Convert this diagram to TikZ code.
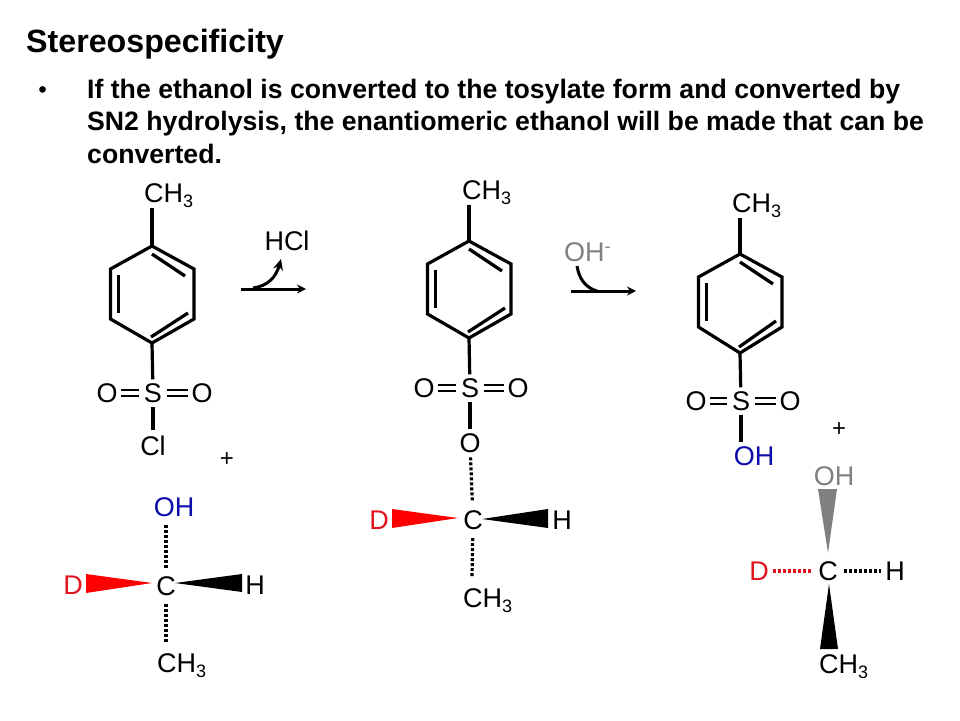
\documentclass[tikz,border=0pt]{standalone}
\usepackage{fontspec}
\setmainfont{Liberation Sans}
\usetikzlibrary{arrows.meta}
\definecolor{oblue}{RGB}{12,12,170}
\definecolor{dred}{RGB}{225,20,30}
\definecolor{wred}{RGB}{255,0,0}
\definecolor{ogray}{RGB}{128,128,128}
\newcommand{\lab}{\fontsize{27}{27}\selectfont}
\newcommand{\methyl}{CH\raisebox{-5.5pt}{\fontsize{18}{18}\selectfont 3}}
\tikzset{
  bond/.style={line width=3.2pt,line cap=butt},
  dbond/.style={double,double distance=3.6pt,line width=2.6pt,line cap=butt},
  hashb/.style={line width=3.2pt,dash pattern=on 3pt off 2pt},
  atom/.style={circle,inner sep=0pt,minimum size=27pt,font=\lab},
  catom/.style={circle,inner sep=0pt,minimum size=36pt,font=\lab},
  satom/.style={circle,inner sep=0pt,minimum size=26pt,font=\lab},
  methylnode/.style={anchor=base west,inner sep=0pt,font=\lab},
  head/.style={anchor=base west,inner sep=0pt,font=\fontsize{26.65}{26.65}\selectfont\bfseries},
  curv/.style={line width=3pt,-{Stealth[length=11pt,width=10pt]}},
  rxn/.style={line width=3pt,-{Stealth[length=9pt,width=9pt]}},
}
\newcommand{\ringat}[4]{%
  \coordinate (#1t) at (#2,#3);
  \coordinate (#1ur) at (#2+42,#3+23);
  \coordinate (#1lr) at (#2+42,#3+73);
  \coordinate (#1b) at (#2,#4);
  \coordinate (#1ll) at (#2-41.5,#3+73);
  \coordinate (#1ul) at (#2-41.5,#3+23);
  \draw[bond,line join=miter] (#1t)--(#1ur)--(#1lr)--(#1b)--(#1ll)--(#1ul)--cycle;
  \draw[bond] (#2,#3+8)--(#2+33,#3+30);
  \draw[bond] (#2-33.5,#3+29)--(#2-33.5,#3+67);
  \draw[bond] (#2-1,#4-6)--(#2+36,#3+67);
}
\begin{document}
\begin{tikzpicture}[x=1pt,y=-1pt]
\useasboundingbox (0,0) rectangle (960,720);
\fill[white] (0,0) rectangle (960,720);
% heading
\node[head,font=\fontsize{32.2}{32.2}\selectfont\bfseries] (title) at (26,52) {Stereospecificity};
\node[head,font=\fontsize{23}{23}\selectfont\bfseries] (bul) at (38.5,97) {•};
\node[head] (l1) at (87,98) {If the ethanol is converted to the tosylate form and converted by};
\node[head] (l2) at (87,130) {SN2 hydrolysis, the enantiomeric ethanol will be made that can be};
\node[head] (l3) at (87,163) {converted.};
% molecule 1
\ringat{a}{152}{246}{343}
\node[methylnode] (am) at (144,202) {\methyl};
\coordinate (amb) at (152,208);
\draw[bond] (at)--(amb);
\node[atom] (as) at (153,393) {S};
\node[atom] (ao1) at (107,393) {O};
\node[atom] (ao2) at (202,393) {O};
\node[atom] (acl) at (153,446) {Cl};
\draw[bond] (ab)--(as);
\draw[dbond] (ao1)--(as);
\draw[dbond] (as)--(ao2);
\draw[bond] (as)--(acl);
\node[atom] (aplus) at (227,460) {\fontsize{24}{24}\selectfont +};
% arrow 1
\coordinate (r1s) at (241,289);
\coordinate (r1e) at (306,289);
\draw[rxn] (r1s)--(r1e);
\node[atom] (hcl) at (287,241) {HCl};
\coordinate (r1c) at (253,288);
\draw[curv] (r1c) .. controls (268,286) and (276,277) .. (281,259);
% molecule 2
\ringat{b}{469}{241}{338}
\node[methylnode] (bm) at (462,199) {\methyl};
\coordinate (bmb) at (469,205);
\draw[bond] (bt)--(bmb);
\node[atom] (bs) at (470,388) {S};
\node[atom] (bo1) at (424,388) {O};
\node[atom] (bo2) at (518,388) {O};
\node[atom] (bo3) at (470,443) {O};
\draw[bond] (bb)--(bs);
\draw[dbond] (bo1)--(bs);
\draw[dbond] (bs)--(bo2);
\draw[bond] (bs)--(bo3);
\node[catom] (bc) at (473,520) {C};
\node[satom,text=dred] (bd) at (379,520) {D};
\node[satom] (bh) at (562,520) {H};
\node[methylnode] (bn) at (463,607) {\methyl};
\coordinate (bnt) at (472,577);
\draw[hashb] (bo3)--(bc);
\draw[hashb] (bc)--(bnt);
\fill[wred] (392,509)--(458,518)--(392,528)--cycle;
\fill[black] (482,519)--(548,509)--(548,528)--cycle;
% arrow 2
\node[anchor=base west,inner sep=0pt,font=\lab,text=ogray] (oh) at (564,261) {OH\raisebox{9pt}{\fontsize{18}{18}\selectfont -}};
\coordinate (r2s) at (571,291);
\coordinate (r2e) at (636,291);
\draw[rxn] (r2s)--(r2e);
\coordinate (r2c) at (577,266);
\coordinate (r2d) at (597,291);
\draw[line width=3pt] (r2c) .. controls (579,279) and (586,288) .. (r2d);
% molecule 3
\ringat{c}{740}{254}{353}
\node[methylnode] (cm) at (732,212) {\methyl};
\coordinate (cmb) at (740,218);
\draw[bond] (ct)--(cmb);
\node[atom] (cs) at (741,401) {S};
\node[atom] (co1) at (696,401) {O};
\node[atom] (co2) at (790,401) {O};
\node[atom,text=oblue] (coh) at (754,456) {OH};
\draw[bond] (cb)--(cs);
\draw[dbond] (co1)--(cs);
\draw[dbond] (cs)--(co2);
\coordinate (cohb) at (741,442);
\draw[bond] (cs)--(cohb);
\node[atom] (cplus) at (839,430) {\fontsize{24}{24}\selectfont +};
% bottom left
\node[catom] (dc) at (166,586) {C};
\node[catom,text=oblue] (doh) at (174,507) {OH};
\node[satom,text=dred] (dd) at (73,585) {D};
\node[satom] (dh) at (255,585) {H};
\node[methylnode] (dm) at (157,672) {\methyl};
\coordinate (doht) at (166,525);
\coordinate (dmt) at (166,642);
\draw[hashb] (doht)--(dc);
\draw[hashb] (dc)--(dmt);
\fill[wred] (86,574)--(152,583)--(86,593)--cycle;
\fill[black] (175,583)--(242,574)--(242,592)--cycle;
% bottom right
\node[catom,minimum size=32pt] (ec) at (828,571) {C};
\node[satom,text=ogray] (eoh) at (834,476) {OH};
\node[satom,text=dred] (ed) at (759,571) {D};
\node[satom] (eh) at (895,571) {H};
\node[methylnode] (em) at (819,673) {\methyl};
\draw[hashb,draw=dred] (ed)--(ec);
\draw[hashb] (ec)--(eh);
\fill[ogray] (818,489)--(837,489)--(828,553)--cycle;
\fill[black] (829,584)--(838,649)--(820,649)--cycle;
\end{tikzpicture}
\end{document}
